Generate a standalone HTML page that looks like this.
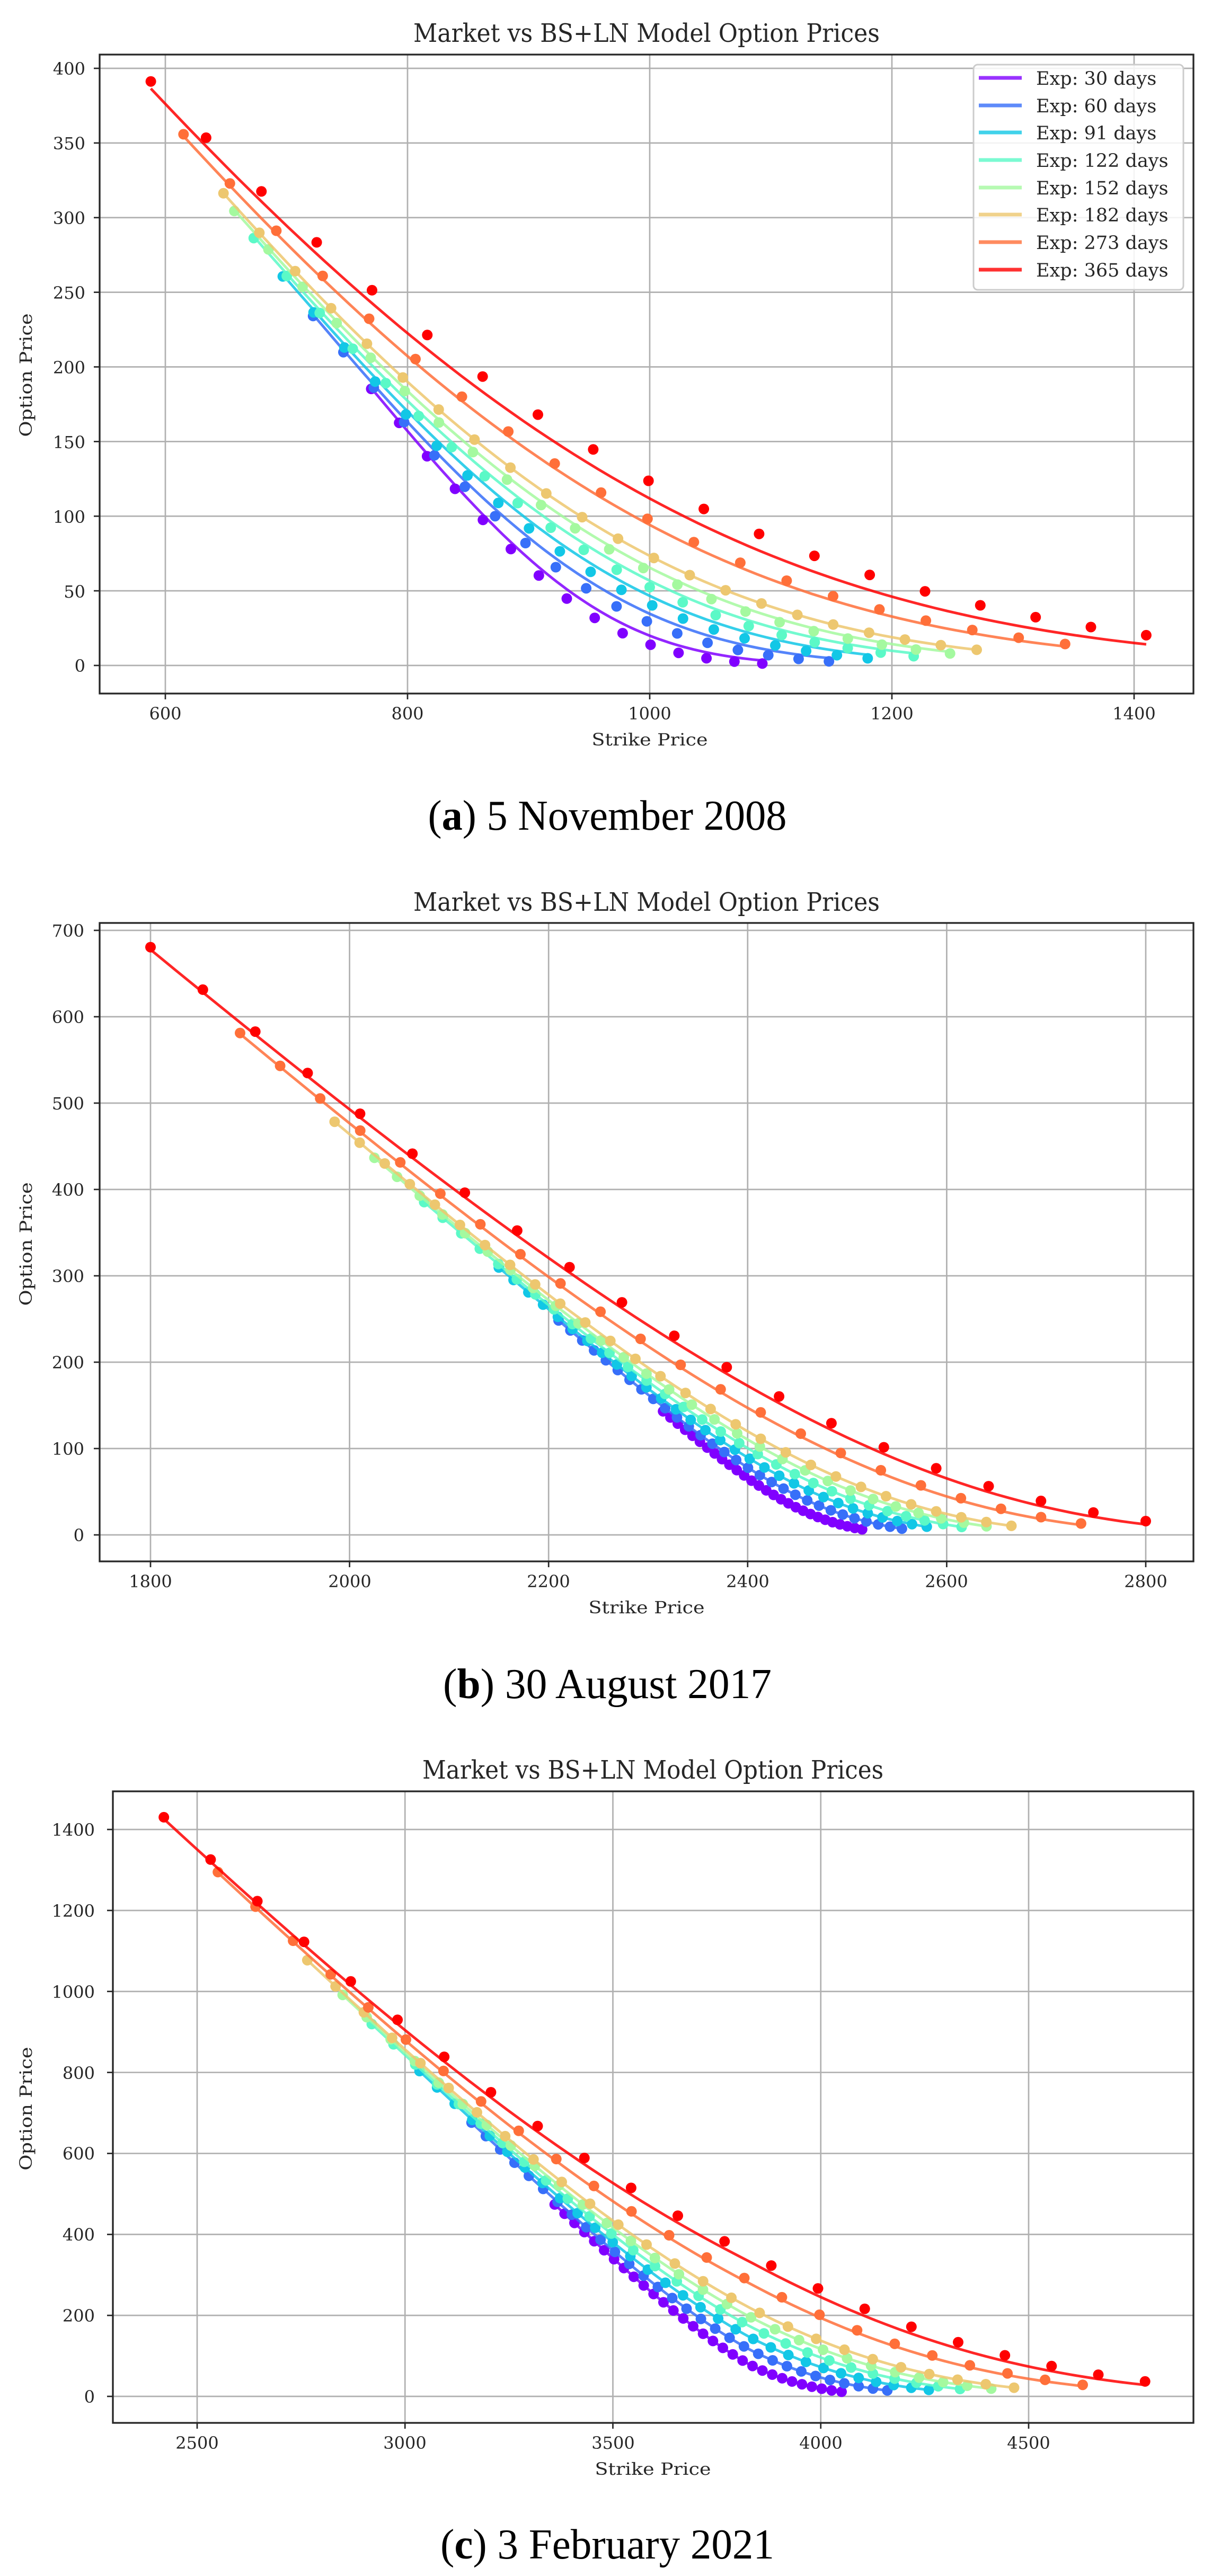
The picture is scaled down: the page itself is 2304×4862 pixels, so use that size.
<!DOCTYPE html>
<html><head><meta charset="utf-8">
<style>
html,body{margin:0;padding:0;background:#fff;}
svg{display:block;}
.t{font-family:"DejaVu Serif",serif;fill:#262626;}
.cap{font-family:"Liberation Serif",serif;fill:#000;}
</style></head>
<body>
<svg id="s" width="2304" height="4862" viewBox="0 0 2304 4862" xmlns="http://www.w3.org/2000/svg">
<defs>
<clipPath id="ca"><rect x="188" y="103" width="2064" height="1206"/></clipPath>
<clipPath id="cb"><rect x="188" y="1742" width="2064" height="1205"/></clipPath>
<clipPath id="cc"><rect x="213" y="3381" width="2039" height="1192"/></clipPath>
</defs>
<g id="grid"></g>
<g id="series"></g>
<g id="frame"></g>

<!-- Panel a text -->
<text class="t" x="1220" y="79" font-size="48" text-anchor="middle" textLength="880" lengthAdjust="spacingAndGlyphs">Market vs BS+LN Model Option Prices</text>
<text class="t" x="1226" y="1407" font-size="32" text-anchor="middle" textLength="219" lengthAdjust="spacingAndGlyphs">Strike Price</text>
<text class="t" font-size="32" text-anchor="middle" transform="translate(60,708) rotate(-90)" textLength="233" lengthAdjust="spacingAndGlyphs">Option Price</text>
<g class="t" font-size="32" text-anchor="end">
<text x="161" y="141">400</text><text x="161" y="282">350</text><text x="161" y="423">300</text>
<text x="161" y="564">250</text><text x="161" y="705">200</text><text x="161" y="846">150</text>
<text x="161" y="987">100</text><text x="161" y="1128">50</text><text x="161" y="1268">0</text>
</g>
<g class="t" font-size="32" text-anchor="middle">
<text x="312" y="1358">600</text><text x="769" y="1358">800</text><text x="1226" y="1358">1000</text>
<text x="1683" y="1358">1200</text><text x="2140" y="1358">1400</text>
</g>
<text class="cap" x="1146" y="1566" font-size="80" text-anchor="middle" textLength="677" lengthAdjust="spacingAndGlyphs">(<tspan font-weight="bold">a</tspan>) 5 November 2008</text>

<!-- Panel b text -->
<text class="t" x="1220" y="1719" font-size="48" text-anchor="middle" textLength="880" lengthAdjust="spacingAndGlyphs">Market vs BS+LN Model Option Prices</text>
<text class="t" x="1220" y="3045" font-size="32" text-anchor="middle" textLength="219" lengthAdjust="spacingAndGlyphs">Strike Price</text>
<text class="t" font-size="32" text-anchor="middle" transform="translate(60,2348) rotate(-90)" textLength="233" lengthAdjust="spacingAndGlyphs">Option Price</text>
<g class="t" font-size="32" text-anchor="end">
<text x="159" y="1768">700</text><text x="159" y="1931">600</text><text x="159" y="2094">500</text>
<text x="159" y="2257">400</text><text x="159" y="2420">300</text><text x="159" y="2583">200</text>
<text x="159" y="2746">100</text><text x="159" y="2909">0</text>
</g>
<g class="t" font-size="32" text-anchor="middle">
<text x="284" y="2996">1800</text><text x="660" y="2996">2000</text><text x="1035" y="2996">2200</text>
<text x="1411" y="2996">2400</text><text x="1786" y="2996">2600</text><text x="2162" y="2996">2800</text>
</g>
<text class="cap" x="1146" y="3205" font-size="80" text-anchor="middle" textLength="620" lengthAdjust="spacingAndGlyphs">(<tspan font-weight="bold">b</tspan>) 30 August 2017</text>

<!-- Panel c text -->
<text class="t" x="1232" y="3357" font-size="48" text-anchor="middle" textLength="870" lengthAdjust="spacingAndGlyphs">Market vs BS+LN Model Option Prices</text>
<text class="t" x="1232" y="4671" font-size="32" text-anchor="middle" textLength="219" lengthAdjust="spacingAndGlyphs">Strike Price</text>
<text class="t" font-size="32" text-anchor="middle" transform="translate(60,3980) rotate(-90)" textLength="233" lengthAdjust="spacingAndGlyphs">Option Price</text>
<g class="t" font-size="32" text-anchor="end">
<text x="179" y="3465">1400</text><text x="179" y="3618">1200</text><text x="179" y="3771">1000</text>
<text x="179" y="3924">800</text><text x="179" y="4076">600</text><text x="179" y="4229">400</text>
<text x="179" y="4382">200</text><text x="179" y="4535">0</text>
</g>
<g class="t" font-size="32" text-anchor="middle">
<text x="372" y="4622">2500</text><text x="764" y="4622">3000</text><text x="1157" y="4622">3500</text>
<text x="1549" y="4622">4000</text><text x="1941" y="4622">4500</text>
</g>
<text class="cap" x="1146" y="4829" font-size="80" text-anchor="middle" textLength="630" lengthAdjust="spacingAndGlyphs">(<tspan font-weight="bold">c</tspan>) 3 February 2021</text>

<!-- Legend (panel a) -->
<g id="legend">
<rect x="1837" y="122" width="396" height="425" rx="8" fill="#fff" fill-opacity="0.85" stroke="#cccccc" stroke-width="3"/>
<g stroke-width="7" opacity="0.8">
<line x1="1847" x2="1928" y1="147" y2="147" stroke="#8000ff"/>
<line x1="1847" x2="1928" y1="199" y2="199" stroke="#376ff9"/>
<line x1="1847" x2="1928" y1="250" y2="250" stroke="#12c7e6"/>
<line x1="1847" x2="1928" y1="302" y2="302" stroke="#5bf9c7"/>
<line x1="1847" x2="1928" y1="354" y2="354" stroke="#a4f99f"/>
<line x1="1847" x2="1928" y1="405" y2="405" stroke="#edc76f"/>
<line x1="1847" x2="1928" y1="457" y2="457" stroke="#ff6f39"/>
<line x1="1847" x2="1928" y1="509" y2="509" stroke="#ff0000"/>
</g>
<g class="t" font-size="35">
<text x="1955" y="160">Exp: 30 days</text>
<text x="1955" y="212">Exp: 60 days</text>
<text x="1955" y="263">Exp: 91 days</text>
<text x="1955" y="315">Exp: 122 days</text>
<text x="1955" y="367">Exp: 152 days</text>
<text x="1955" y="418">Exp: 182 days</text>
<text x="1955" y="470">Exp: 273 days</text>
<text x="1955" y="522">Exp: 365 days</text>
</g>
</g>
</svg>
<script>
(function(){
var NS="http://www.w3.org/2000/svg";
function el(n,a,p){var e=document.createElementNS(NS,n);for(var k in a)e.setAttribute(k,a[k]);p.appendChild(e);return e;}
function N(x){var t=1/(1+0.2316419*Math.abs(x));var d=0.3989423*Math.exp(-x*x/2);
 var p=d*t*(0.3193815+t*(-0.3565638+t*(1.781478+t*(-1.821256+t*1.330274))));return x>0?1-p:p;}
function bs(S,K,T,s){if(s<0.03)s=0.03;var v=s*Math.sqrt(T);var d1=(Math.log(S/K)+v*v/2)/v;var c=S*N(d1)-K*N(d1-v);return Math.max(c,0);}
var cols=["#8000ff","#376ff9","#12c7e6","#5bf9c7","#a4f99f","#edc76f","#ff6f39","#ff0000"];
var days=[30,60,91,122,152,182,273,365];
var panels=[
 {clip:"ca",L:188,R:2252,Tp:103,B:1309,x0:600,px0:312,x1:1400,px1:2140,y0:0,py0:1256,y1:400,py1:129,
  xt:[600,800,1000,1200,1400],yt:[0,50,100,150,200,250,300,350,400],
  S:955,a:function(T){return 0.35;},bi:function(T){return 0.15;},bo:0.15,del:[-0.06,-0.04,-0.03,-0.02,-0.01,0,0.01,0.03],
  rng:[[770,1093,15],[722,1148,18],[697,1180,20],[673,1218,21],[657,1248,22],[648,1270,22],[615,1343,20],[588,1410,19]]},
 {clip:"cb",L:188,R:2252,Tp:1742,B:2947,x0:1800,px0:284,x1:2800,px1:2162,y0:0,py0:2897,y1:700,py1:1756,
  xt:[1800,2000,2200,2400,2600,2800],yt:[0,100,200,300,400,500,600,700],
  S:2457,a:function(T){return 0.08+0.06*Math.sqrt(T);},bi:function(T){return 0.3;},bo:0.3,del:[0,0,0,0,0,0,0.004,0.008],
  rng:[[2315,2515,28],[2210,2555,30],[2150,2580,30],[2075,2615,30],[2025,2640,28],[1985,2665,28],[1890,2735,22],[1800,2800,20]]},
 {clip:"cc",L:213,R:2252,Tp:3381,B:4573,x0:2500,px0:372,x1:4500,px1:1941,y0:0,py0:4523,y1:1400,py1:3453,
  xt:[2500,3000,3500,4000,4500],yt:[0,200,400,600,800,1000,1200,1400],
  S:3825,a:function(T){return 0.17+0.05*Math.sqrt(T);},bi:function(T){return 0.15+0.3*(1/Math.sqrt(T)-1);},bo:0.25,del:[0,0,0,0,0,0,0.005,0.012],
  rng:[[3360,4050,30],[3160,4160,30],[3035,4260,30],[2920,4335,28],[2850,4410,28],[2765,4465,26],[2550,4630,24],[2420,4780,22]]}
];
var grid=document.getElementById("grid"),ser=document.getElementById("series"),fr=document.getElementById("frame");
panels.forEach(function(P){
 var sx=(P.px1-P.px0)/(P.x1-P.x0),sy=(P.py1-P.py0)/(P.y1-P.y0);
 function X(k){return P.px0+(k-P.x0)*sx;} function Y(v){return P.py0+(v-P.y0)*sy;}
 P.xt.forEach(function(k){var x=X(k);
  el("line",{x1:x,x2:x,y1:P.Tp,y2:P.B,stroke:"#b0b0b0","stroke-width":2.7},grid);
  el("line",{x1:x,x2:x,y1:P.B,y2:P.B+11,stroke:"#262626","stroke-width":2.7},fr);});
 P.yt.forEach(function(v){var y=Y(v);
  el("line",{x1:P.L,x2:P.R,y1:y,y2:y,stroke:"#b0b0b0","stroke-width":2.7},grid);
  el("line",{x1:P.L-11,x2:P.L,y1:y,y2:y,stroke:"#262626","stroke-width":2.7},fr);});
 el("rect",{x:P.L,y:P.Tp,width:P.R-P.L,height:P.B-P.Tp,fill:"none",stroke:"#262626","stroke-width":3.3},fr);
 var g=el("g",{"clip-path":"url(#"+P.clip+")"},ser);
 for(var i=0;i<8;i++){
  var T=days[i]/365,r=P.rng[i],A=P.a(T),BI=P.bi(T);
  var sig=function(K,d){var l=Math.log(K/P.S);return A-(l>0?P.bo:BI)*l+d;};
  var pts=[];
  for(var j=0;j<=80;j++){var K=r[0]+(r[1]-r[0])*j/80;pts.push(X(K).toFixed(1)+","+Y(bs(P.S,K,T,sig(K,0))).toFixed(1));}
  el("polyline",{points:pts.join(" "),fill:"none",stroke:cols[i],"stroke-width":5,"stroke-opacity":0.85,"stroke-linejoin":"round"},g);
  for(var j=0;j<r[2];j++){var K=r[0]+(r[1]-r[0])*j/(r[2]-1);
   el("circle",{cx:X(K).toFixed(1),cy:Y(bs(P.S,K,T,sig(K,P.del[i]))).toFixed(1),r:10,fill:cols[i]},g);}
 }
});
})();
</script>
</body></html>
